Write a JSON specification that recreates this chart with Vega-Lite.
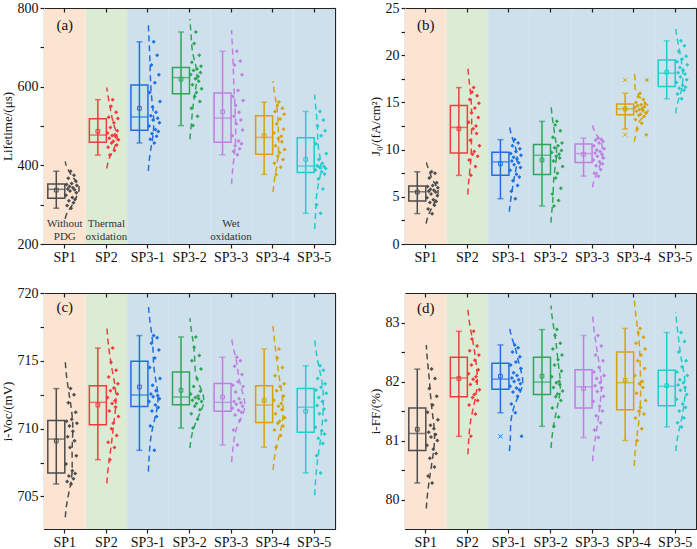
{
"$schema":"https://vega.github.io/schema/vega-lite/v6.json",
"padding":{"left":0,"top":0,"right":2,"bottom":0},
"config":{"font":"Liberation Serif","view":{"stroke":"#222","strokeWidth":1},
"axis":{"labelFont":"Liberation Serif","titleFont":"Liberation Serif","labelFontSize":14,"titleFontSize":13,"titleFontWeight":"normal","labelColor":"#111","titleColor":"#111","domainColor":"#222","tickColor":"#222","grid":false,"tickSize":4,"labelPadding":2,"domainWidth":1.2,"tickWidth":1.2,"titlePadding":3}},
"datasets":{
"zones":[{"g":"SP1","zone":"pre"},{"g":"SP2","zone":"thermal"},{"g":"SP3-1","zone":"wet"},{"g":"SP3-2","zone":"wet"},{"g":"SP3-3","zone":"wet"},{"g":"SP3-4","zone":"wet"},{"g":"SP3-5","zone":"wet"}],
"sa":[{"g":"SP1","lo":291,"q1":316,"med":339,"q3":352.5,"hi":385,"mean":337},{"g":"SP2","lo":426,"q1":459,"med":477,"q3":518.5,"hi":567,"mean":486.5},{"g":"SP3-1","lo":457,"q1":489,"med":523,"q3":604,"hi":714,"mean":545},{"g":"SP3-2","lo":501,"q1":582,"med":623,"q3":649,"hi":739,"mean":619},{"g":"SP3-3","lo":427,"q1":459,"med":520,"q3":584,"hi":690,"mean":536},{"g":"SP3-4","lo":377,"q1":428,"med":471,"q3":526,"hi":561,"mean":475},{"g":"SP3-5","lo":278,"q1":382,"med":398,"q3":470,"hi":537,"mean":415}],
"sb":[{"g":"SP1","lo":3.22,"q1":4.56,"med":5.54,"q3":6.14,"hi":7.65,"mean":5.5},{"g":"SP2","lo":7.27,"q1":9.65,"med":12.35,"q3":14.67,"hi":16.57,"mean":12.2},{"g":"SP3-1","lo":4.8,"q1":7.27,"med":8.7,"q3":9.72,"hi":11.06,"mean":8.5},{"g":"SP3-2","lo":4.03,"q1":7.37,"med":9.4,"q3":10.53,"hi":12.99,"mean":8.9},{"g":"SP3-3","lo":7.19,"q1":8.63,"med":9.58,"q3":10.6,"hi":11.23,"mean":9.5},{"g":"SP3-4","lo":12.18,"q1":13.69,"med":14.32,"q3":14.82,"hi":15.97,"mean":14.3},{"g":"SP3-5","lo":15.38,"q1":16.68,"med":18.08,"q3":19.48,"hi":21.52,"mean":18.2}],
"sc":[{"g":"SP1","lo":705.92,"q1":706.73,"med":709.23,"q3":710.6,"hi":712.95,"mean":709.09},{"g":"SP2","lo":707.71,"q1":710.29,"med":711.94,"q3":713.17,"hi":715.94,"mean":711.74},{"g":"SP3-1","lo":708.4,"q1":711.64,"med":712.48,"q3":714.96,"hi":716.86,"mean":713.07},{"g":"SP3-2","lo":710.04,"q1":711.77,"med":712.33,"q3":714.17,"hi":716.76,"mean":712.83},{"g":"SP3-3","lo":708.79,"q1":711.28,"med":711.94,"q3":713.32,"hi":715.26,"mean":712.33},{"g":"SP3-4","lo":708.62,"q1":710.46,"med":711.74,"q3":713.17,"hi":715.87,"mean":712.09},{"g":"SP3-5","lo":706.73,"q1":709.73,"med":711.57,"q3":712.95,"hi":714.64,"mean":711.28}],
"sd":[{"g":"SP1","lo":80.28,"q1":80.83,"med":81.12,"q3":81.55,"hi":82.21,"mean":81.19},{"g":"SP2","lo":81.07,"q1":81.74,"med":82.06,"q3":82.41,"hi":82.85,"mean":82.05},{"g":"SP3-1","lo":81.47,"q1":81.87,"med":82.04,"q3":82.31,"hi":82.62,"mean":82.09},{"g":"SP3-2","lo":81.24,"q1":81.78,"med":81.99,"q3":82.41,"hi":82.88,"mean":82.09},{"g":"SP3-3","lo":81.05,"q1":81.55,"med":81.91,"q3":82.2,"hi":82.78,"mean":81.88},{"g":"SP3-4","lo":81.0,"q1":81.52,"med":81.98,"q3":82.5,"hi":82.9,"mean":82.02},{"g":"SP3-5","lo":81.23,"q1":81.59,"med":81.92,"q3":82.19,"hi":82.83,"mean":81.93}],
"outl":[{"p":"b","g":"SP3-4","v":17.38},{"p":"b","g":"SP3-4","v":11.58},{"p":"d","g":"SP3-1","v":81.07}],
"pa":[
{"g":"SP1","v":324},{"g":"SP1","v":351},{"g":"SP1","v":298},{"g":"SP1","v":340},{"g":"SP1","v":367},{"g":"SP1","v":310},{"g":"SP1","v":346},{"g":"SP1","v":335},{"g":"SP1","v":385},{"g":"SP1","v":291},{"g":"SP1","v":354},{"g":"SP1","v":318},{"g":"SP1","v":343},{"g":"SP1","v":305},{"g":"SP1","v":375},{"g":"SP1","v":338},{"g":"SP1","v":314},{"g":"SP1","v":360},{"g":"SP1","v":330},{"g":"SP1","v":349},
{"g":"SP2","v":482},{"g":"SP2","v":446},{"g":"SP2","v":522},{"g":"SP2","v":469},{"g":"SP2","v":426},{"g":"SP2","v":496},{"g":"SP2","v":550},{"g":"SP2","v":457},{"g":"SP2","v":476},{"g":"SP2","v":567},{"g":"SP2","v":461},{"g":"SP2","v":508},{"g":"SP2","v":438},{"g":"SP2","v":478},{"g":"SP2","v":473},{"g":"SP2","v":535},{"g":"SP2","v":452},{"g":"SP2","v":488},{"g":"SP2","v":519},{"g":"SP2","v":465},
{"g":"SP3-1","v":500},{"g":"SP3-1","v":585},{"g":"SP3-1","v":466},{"g":"SP3-1","v":526},{"g":"SP3-1","v":655},{"g":"SP3-1","v":481},{"g":"SP3-1","v":548},{"g":"SP3-1","v":515},{"g":"SP3-1","v":714},{"g":"SP3-1","v":457},{"g":"SP3-1","v":610},{"g":"SP3-1","v":491},{"g":"SP3-1","v":535},{"g":"SP3-1","v":474},{"g":"SP3-1","v":680},{"g":"SP3-1","v":520},{"g":"SP3-1","v":486},{"g":"SP3-1","v":630},{"g":"SP3-1","v":508},{"g":"SP3-1","v":562},
{"g":"SP3-2","v":631},{"g":"SP3-2","v":545},{"g":"SP3-2","v":662},{"g":"SP3-2","v":605},{"g":"SP3-2","v":501},{"g":"SP3-2","v":641},{"g":"SP3-2","v":710},{"g":"SP3-2","v":575},{"g":"SP3-2","v":620},{"g":"SP3-2","v":739},{"g":"SP3-2","v":585},{"g":"SP3-2","v":645},{"g":"SP3-2","v":525},{"g":"SP3-2","v":626},{"g":"SP3-2","v":614},{"g":"SP3-2","v":680},{"g":"SP3-2","v":562},{"g":"SP3-2","v":636},{"g":"SP3-2","v":652},{"g":"SP3-2","v":595},
{"g":"SP3-3","v":475},{"g":"SP3-3","v":575},{"g":"SP3-3","v":435},{"g":"SP3-3","v":525},{"g":"SP3-3","v":655},{"g":"SP3-3","v":450},{"g":"SP3-3","v":552},{"g":"SP3-3","v":505},{"g":"SP3-3","v":690},{"g":"SP3-3","v":427},{"g":"SP3-3","v":590},{"g":"SP3-3","v":462},{"g":"SP3-3","v":535},{"g":"SP3-3","v":442},{"g":"SP3-3","v":665},{"g":"SP3-3","v":515},{"g":"SP3-3","v":455},{"g":"SP3-3","v":630},{"g":"SP3-3","v":490},{"g":"SP3-3","v":565},
{"g":"SP3-4","v":482},{"g":"SP3-4","v":405},{"g":"SP3-4","v":537},{"g":"SP3-4","v":450},{"g":"SP3-4","v":377},{"g":"SP3-4","v":505},{"g":"SP3-4","v":553},{"g":"SP3-4","v":424},{"g":"SP3-4","v":468},{"g":"SP3-4","v":561},{"g":"SP3-4","v":432},{"g":"SP3-4","v":518},{"g":"SP3-4","v":395},{"g":"SP3-4","v":474},{"g":"SP3-4","v":460},{"g":"SP3-4","v":545},{"g":"SP3-4","v":415},{"g":"SP3-4","v":492},{"g":"SP3-4","v":530},{"g":"SP3-4","v":440},
{"g":"SP3-5","v":388},{"g":"SP3-5","v":455},{"g":"SP3-5","v":300},{"g":"SP3-5","v":399},{"g":"SP3-5","v":500},{"g":"SP3-5","v":365},{"g":"SP3-5","v":415},{"g":"SP3-5","v":395},{"g":"SP3-5","v":537},{"g":"SP3-5","v":278},{"g":"SP3-5","v":475},{"g":"SP3-5","v":384},{"g":"SP3-5","v":405},{"g":"SP3-5","v":340},{"g":"SP3-5","v":515},{"g":"SP3-5","v":397},{"g":"SP3-5","v":378},{"g":"SP3-5","v":488},{"g":"SP3-5","v":392},{"g":"SP3-5","v":430}],
"pb":[
{"g":"SP1","v":4.9},{"g":"SP1","v":6.1},{"g":"SP1","v":3.7},{"g":"SP1","v":5.6},{"g":"SP1","v":7.0},{"g":"SP1","v":4.4},{"g":"SP1","v":5.8},{"g":"SP1","v":5.3},{"g":"SP1","v":7.65},{"g":"SP1","v":3.2},{"g":"SP1","v":6.2},{"g":"SP1","v":4.7},{"g":"SP1","v":5.7},{"g":"SP1","v":4.1},{"g":"SP1","v":7.5},{"g":"SP1","v":5.5},{"g":"SP1","v":4.5},{"g":"SP1","v":6.5},{"g":"SP1","v":5.1},{"g":"SP1","v":5.95},
{"g":"SP2","v":12.9},{"g":"SP2","v":8.9},{"g":"SP2","v":15.3},{"g":"SP2","v":11.0},{"g":"SP2","v":7.27},{"g":"SP2","v":13.9},{"g":"SP2","v":16.1},{"g":"SP2","v":9.5},{"g":"SP2","v":12.2},{"g":"SP2","v":16.57},{"g":"SP2","v":9.8},{"g":"SP2","v":14.4},{"g":"SP2","v":8.2},{"g":"SP2","v":12.5},{"g":"SP2","v":11.7},{"g":"SP2","v":15.7},{"g":"SP2","v":9.3},{"g":"SP2","v":13.4},{"g":"SP2","v":14.9},{"g":"SP2","v":10.4},
{"g":"SP3-1","v":7.8},{"g":"SP3-1","v":9.6},{"g":"SP3-1","v":5.6},{"g":"SP3-1","v":8.8},{"g":"SP3-1","v":10.4},{"g":"SP3-1","v":6.7},{"g":"SP3-1","v":9.2},{"g":"SP3-1","v":8.4},{"g":"SP3-1","v":11.06},{"g":"SP3-1","v":4.8},{"g":"SP3-1","v":9.8},{"g":"SP3-1","v":7.4},{"g":"SP3-1","v":9.0},{"g":"SP3-1","v":6.2},{"g":"SP3-1","v":10.7},{"g":"SP3-1","v":8.6},{"g":"SP3-1","v":7.1},{"g":"SP3-1","v":10.1},{"g":"SP3-1","v":8.1},{"g":"SP3-1","v":9.4},
{"g":"SP3-2","v":9.7},{"g":"SP3-2","v":5.3},{"g":"SP3-2","v":11.3},{"g":"SP3-2","v":8.8},{"g":"SP3-2","v":4.03},{"g":"SP3-2","v":10.2},{"g":"SP3-2","v":12.6},{"g":"SP3-2","v":7.0},{"g":"SP3-2","v":9.3},{"g":"SP3-2","v":12.99},{"g":"SP3-2","v":7.5},{"g":"SP3-2","v":10.4},{"g":"SP3-2","v":4.6},{"g":"SP3-2","v":9.5},{"g":"SP3-2","v":9.1},{"g":"SP3-2","v":12.0},{"g":"SP3-2","v":5.9},{"g":"SP3-2","v":9.9},{"g":"SP3-2","v":10.7},{"g":"SP3-2","v":8.2},
{"g":"SP3-3","v":8.9},{"g":"SP3-3","v":10.4},{"g":"SP3-3","v":7.5},{"g":"SP3-3","v":9.65},{"g":"SP3-3","v":11.0},{"g":"SP3-3","v":8.3},{"g":"SP3-3","v":9.95},{"g":"SP3-3","v":9.3},{"g":"SP3-3","v":11.23},{"g":"SP3-3","v":7.19},{"g":"SP3-3","v":10.7},{"g":"SP3-3","v":8.7},{"g":"SP3-3","v":9.8},{"g":"SP3-3","v":7.9},{"g":"SP3-3","v":11.1},{"g":"SP3-3","v":9.5},{"g":"SP3-3","v":8.5},{"g":"SP3-3","v":10.85},{"g":"SP3-3","v":9.1},{"g":"SP3-3","v":10.1},
{"g":"SP3-4","v":14.45},{"g":"SP3-4","v":13.2},{"g":"SP3-4","v":15.0},{"g":"SP3-4","v":14.05},{"g":"SP3-4","v":12.18},{"g":"SP3-4","v":14.65},{"g":"SP3-4","v":15.6},{"g":"SP3-4","v":13.65},{"g":"SP3-4","v":14.25},{"g":"SP3-4","v":15.97},{"g":"SP3-4","v":13.75},{"g":"SP3-4","v":14.75},{"g":"SP3-4","v":12.8},{"g":"SP3-4","v":14.35},{"g":"SP3-4","v":14.15},{"g":"SP3-4","v":15.3},{"g":"SP3-4","v":13.5},{"g":"SP3-4","v":14.55},{"g":"SP3-4","v":14.85},{"g":"SP3-4","v":13.9},{"g":"SP3-4","v":11.58},{"g":"SP3-4","v":17.38},
{"g":"SP3-5","v":17.1},{"g":"SP3-5","v":19.3},{"g":"SP3-5","v":15.9},{"g":"SP3-5","v":18.15},{"g":"SP3-5","v":20.4},{"g":"SP3-5","v":16.5},{"g":"SP3-5","v":18.7},{"g":"SP3-5","v":17.7},{"g":"SP3-5","v":21.52},{"g":"SP3-5","v":15.38},{"g":"SP3-5","v":19.6},{"g":"SP3-5","v":16.8},{"g":"SP3-5","v":18.4},{"g":"SP3-5","v":16.3},{"g":"SP3-5","v":21.0},{"g":"SP3-5","v":18.0},{"g":"SP3-5","v":16.6},{"g":"SP3-5","v":19.9},{"g":"SP3-5","v":17.4},{"g":"SP3-5","v":19.0}],
"pc":[
{"g":"SP1","v":707.4},{"g":"SP1","v":710.55},{"g":"SP1","v":706.1},{"g":"SP1","v":709.4},{"g":"SP1","v":711.9},{"g":"SP1","v":706.5},{"g":"SP1","v":710.2},{"g":"SP1","v":708.6},{"g":"SP1","v":712.95},{"g":"SP1","v":705.92},{"g":"SP1","v":710.7},{"g":"SP1","v":706.9},{"g":"SP1","v":709.8},{"g":"SP1","v":706.3},{"g":"SP1","v":712.5},{"g":"SP1","v":709.1},{"g":"SP1","v":706.7},{"g":"SP1","v":711.2},{"g":"SP1","v":708.0},{"g":"SP1","v":710.4},
{"g":"SP2","v":712.3},{"g":"SP2","v":709.0},{"g":"SP2","v":713.8},{"g":"SP2","v":711.3},{"g":"SP2","v":707.71},{"g":"SP2","v":712.8},{"g":"SP2","v":714.9},{"g":"SP2","v":710.0},{"g":"SP2","v":711.85},{"g":"SP2","v":715.94},{"g":"SP2","v":710.4},{"g":"SP2","v":713.0},{"g":"SP2","v":708.6},{"g":"SP2","v":712.05},{"g":"SP2","v":711.6},{"g":"SP2","v":714.3},{"g":"SP2","v":709.5},{"g":"SP2","v":712.55},{"g":"SP2","v":713.3},{"g":"SP2","v":710.9},
{"g":"SP3-1","v":712.0},{"g":"SP3-1","v":714.5},{"g":"SP3-1","v":710.2},{"g":"SP3-1","v":712.55},{"g":"SP3-1","v":716.3},{"g":"SP3-1","v":711.3},{"g":"SP3-1","v":713.2},{"g":"SP3-1","v":712.35},{"g":"SP3-1","v":716.86},{"g":"SP3-1","v":708.4},{"g":"SP3-1","v":715.2},{"g":"SP3-1","v":711.75},{"g":"SP3-1","v":712.8},{"g":"SP3-1","v":710.9},{"g":"SP3-1","v":716.7},{"g":"SP3-1","v":712.45},{"g":"SP3-1","v":711.55},{"g":"SP3-1","v":715.8},{"g":"SP3-1","v":712.2},{"g":"SP3-1","v":713.7},
{"g":"SP3-2","v":712.55},{"g":"SP3-2","v":711.1},{"g":"SP3-2","v":715.0},{"g":"SP3-2","v":712.1},{"g":"SP3-2","v":710.04},{"g":"SP3-2","v":713.1},{"g":"SP3-2","v":716.0},{"g":"SP3-2","v":711.65},{"g":"SP3-2","v":712.3},{"g":"SP3-2","v":716.76},{"g":"SP3-2","v":711.85},{"g":"SP3-2","v":713.7},{"g":"SP3-2","v":710.7},{"g":"SP3-2","v":712.4},{"g":"SP3-2","v":712.2},{"g":"SP3-2","v":715.4},{"g":"SP3-2","v":711.4},{"g":"SP3-2","v":712.75},{"g":"SP3-2","v":714.4},{"g":"SP3-2","v":712.0},
{"g":"SP3-3","v":711.5},{"g":"SP3-3","v":713.2},{"g":"SP3-3","v":709.9},{"g":"SP3-3","v":712.0},{"g":"SP3-3","v":714.6},{"g":"SP3-3","v":711.0},{"g":"SP3-3","v":712.7},{"g":"SP3-3","v":711.8},{"g":"SP3-3","v":715.26},{"g":"SP3-3","v":708.79},{"g":"SP3-3","v":713.45},{"g":"SP3-3","v":711.35},{"g":"SP3-3","v":712.2},{"g":"SP3-3","v":710.6},{"g":"SP3-3","v":715.0},{"g":"SP3-3","v":711.9},{"g":"SP3-3","v":711.2},{"g":"SP3-3","v":714.0},{"g":"SP3-3","v":711.65},{"g":"SP3-3","v":713.1},
{"g":"SP3-4","v":712.1},{"g":"SP3-4","v":709.9},{"g":"SP3-4","v":713.9},{"g":"SP3-4","v":711.1},{"g":"SP3-4","v":708.62},{"g":"SP3-4","v":712.8},{"g":"SP3-4","v":715.2},{"g":"SP3-4","v":710.4},{"g":"SP3-4","v":711.65},{"g":"SP3-4","v":715.87},{"g":"SP3-4","v":710.55},{"g":"SP3-4","v":713.1},{"g":"SP3-4","v":709.5},{"g":"SP3-4","v":711.85},{"g":"SP3-4","v":711.4},{"g":"SP3-4","v":714.5},{"g":"SP3-4","v":710.2},{"g":"SP3-4","v":712.4},{"g":"SP3-4","v":713.3},{"g":"SP3-4","v":710.8},
{"g":"SP3-5","v":710.1},{"g":"SP3-5","v":712.85},{"g":"SP3-5","v":708.0},{"g":"SP3-5","v":711.7},{"g":"SP3-5","v":713.7},{"g":"SP3-5","v":709.3},{"g":"SP3-5","v":712.3},{"g":"SP3-5","v":711.1},{"g":"SP3-5","v":714.64},{"g":"SP3-5","v":706.73},{"g":"SP3-5","v":713.05},{"g":"SP3-5","v":709.85},{"g":"SP3-5","v":712.0},{"g":"SP3-5","v":708.9},{"g":"SP3-5","v":714.3},{"g":"SP3-5","v":711.45},{"g":"SP3-5","v":709.6},{"g":"SP3-5","v":713.3},{"g":"SP3-5","v":710.6},{"g":"SP3-5","v":712.6}],
"pd":[
{"g":"SP1","v":80.92},{"g":"SP1","v":81.48},{"g":"SP1","v":80.4},{"g":"SP1","v":81.14},{"g":"SP1","v":81.88},{"g":"SP1","v":80.7},{"g":"SP1","v":81.26},{"g":"SP1","v":81.06},{"g":"SP1","v":82.21},{"g":"SP1","v":80.28},{"g":"SP1","v":81.6},{"g":"SP1","v":80.85},{"g":"SP1","v":81.2},{"g":"SP1","v":80.55},{"g":"SP1","v":82.05},{"g":"SP1","v":81.1},{"g":"SP1","v":80.78},{"g":"SP1","v":81.75},{"g":"SP1","v":81.0},{"g":"SP1","v":81.35},
{"g":"SP2","v":82.13},{"g":"SP2","v":81.6},{"g":"SP2","v":82.52},{"g":"SP2","v":81.95},{"g":"SP2","v":81.07},{"g":"SP2","v":82.28},{"g":"SP2","v":82.72},{"g":"SP2","v":81.73},{"g":"SP2","v":82.04},{"g":"SP2","v":82.85},{"g":"SP2","v":81.78},{"g":"SP2","v":82.36},{"g":"SP2","v":81.45},{"g":"SP2","v":82.08},{"g":"SP2","v":82.0},{"g":"SP2","v":82.6},{"g":"SP2","v":81.68},{"g":"SP2","v":82.2},{"g":"SP2","v":82.45},{"g":"SP2","v":81.86},
{"g":"SP3-1","v":81.92},{"g":"SP3-1","v":82.28},{"g":"SP3-1","v":81.62},{"g":"SP3-1","v":82.06},{"g":"SP3-1","v":82.5},{"g":"SP3-1","v":81.82},{"g":"SP3-1","v":82.15},{"g":"SP3-1","v":82.0},{"g":"SP3-1","v":82.62},{"g":"SP3-1","v":81.47},{"g":"SP3-1","v":82.33},{"g":"SP3-1","v":81.89},{"g":"SP3-1","v":82.1},{"g":"SP3-1","v":81.75},{"g":"SP3-1","v":82.57},{"g":"SP3-1","v":82.03},{"g":"SP3-1","v":81.86},{"g":"SP3-1","v":82.42},{"g":"SP3-1","v":81.96},{"g":"SP3-1","v":82.22},{"g":"SP3-1","v":81.07},
{"g":"SP3-2","v":82.08},{"g":"SP3-2","v":81.55},{"g":"SP3-2","v":82.55},{"g":"SP3-2","v":81.9},{"g":"SP3-2","v":81.24},{"g":"SP3-2","v":82.28},{"g":"SP3-2","v":82.78},{"g":"SP3-2","v":81.74},{"g":"SP3-2","v":81.98},{"g":"SP3-2","v":82.88},{"g":"SP3-2","v":81.79},{"g":"SP3-2","v":82.37},{"g":"SP3-2","v":81.4},{"g":"SP3-2","v":82.0},{"g":"SP3-2","v":81.95},{"g":"SP3-2","v":82.65},{"g":"SP3-2","v":81.68},{"g":"SP3-2","v":82.18},{"g":"SP3-2","v":82.45},{"g":"SP3-2","v":81.84},
{"g":"SP3-3","v":81.66},{"g":"SP3-3","v":82.16},{"g":"SP3-3","v":81.18},{"g":"SP3-3","v":81.93},{"g":"SP3-3","v":82.45},{"g":"SP3-3","v":81.42},{"g":"SP3-3","v":82.05},{"g":"SP3-3","v":81.83},{"g":"SP3-3","v":82.78},{"g":"SP3-3","v":81.05},{"g":"SP3-3","v":82.24},{"g":"SP3-3","v":81.58},{"g":"SP3-3","v":81.98},{"g":"SP3-3","v":81.3},{"g":"SP3-3","v":82.6},{"g":"SP3-3","v":81.89},{"g":"SP3-3","v":81.5},{"g":"SP3-3","v":82.35},{"g":"SP3-3","v":81.75},{"g":"SP3-3","v":82.1},
{"g":"SP3-4","v":82.1},{"g":"SP3-4","v":81.38},{"g":"SP3-4","v":82.65},{"g":"SP3-4","v":81.8},{"g":"SP3-4","v":81.0},{"g":"SP3-4","v":82.35},{"g":"SP3-4","v":82.82},{"g":"SP3-4","v":81.5},{"g":"SP3-4","v":81.96},{"g":"SP3-4","v":82.9},{"g":"SP3-4","v":81.56},{"g":"SP3-4","v":82.45},{"g":"SP3-4","v":81.2},{"g":"SP3-4","v":82.0},{"g":"SP3-4","v":81.9},{"g":"SP3-4","v":82.75},{"g":"SP3-4","v":81.45},{"g":"SP3-4","v":82.22},{"g":"SP3-4","v":82.55},{"g":"SP3-4","v":81.68},
{"g":"SP3-5","v":81.7},{"g":"SP3-5","v":82.16},{"g":"SP3-5","v":81.3},{"g":"SP3-5","v":81.94},{"g":"SP3-5","v":82.5},{"g":"SP3-5","v":81.5},{"g":"SP3-5","v":82.03},{"g":"SP3-5","v":81.85},{"g":"SP3-5","v":82.83},{"g":"SP3-5","v":81.23},{"g":"SP3-5","v":82.25},{"g":"SP3-5","v":81.62},{"g":"SP3-5","v":81.98},{"g":"SP3-5","v":81.38},{"g":"SP3-5","v":82.68},{"g":"SP3-5","v":81.9},{"g":"SP3-5","v":81.56},{"g":"SP3-5","v":82.35},{"g":"SP3-5","v":81.78},{"g":"SP3-5","v":82.1}]
},
"columns":2,
"spacing":{"column":31,"row":20},
"concat":[
{"width":291,"height":236,
"resolve":{"axis":{"x":"independent","y":"independent"},"scale":{"xOffset":"independent"}},
"layer":[
{"data":{"name":"zones"},"mark":{"type":"rect"},"encoding":{"x":{"field":"g","type":"nominal","scale":{"domain":["SP1","SP2","SP3-1","SP3-2","SP3-3","SP3-4","SP3-5"],"paddingInner":0,"paddingOuter":0},"axis":{"orient":"top","labels":false,"title":null,"tickSize":-4}},"fill":{"field":"zone","type":"nominal","scale":{"domain":["pre","thermal","wet"],"range":["#fbe4d2","#dcecd4","#cde0ec"]},"legend":null}}},
{"data":{"name":"sa"},"mark":{"type":"rule","xOffset":-8.5,"strokeWidth":1.5},"encoding":{"x":{"field":"g","type":"nominal","axis":null},"y":{"field":"lo","type":"quantitative","scale":{"domain":[200,800],"nice":false,"zero":false},"axis":{"orient":"right","labels":false,"title":null,"tickSize":-4,"values":[200,300,400,500,600,700,800]}},"y2":{"field":"hi"},"color":{"field":"g","type":"nominal","scale":{"domain":["SP1","SP2","SP3-1","SP3-2","SP3-3","SP3-4","SP3-5"],"range":["#4d4d4d","#f23b3b","#1e6fe0","#2ea655","#c07ee3","#d8a204","#22cccc"]},"legend":null}}},
{"data":{"name":"sa"},"transform":[{"fold":["lo","hi"],"as":["k","y"]}],"mark":{"type":"tick","orient":"horizontal","size":6,"thickness":1.5,"xOffset":-8.5},"encoding":{"x":{"field":"g","type":"nominal","axis":null},"y":{"field":"y","type":"quantitative","axis":null},"color":{"field":"g","type":"nominal","legend":null}}},
{"data":{"name":"sa"},"mark":{"type":"bar","filled":false,"width":17,"xOffset":-8.5,"strokeWidth":1.5},"encoding":{"x":{"field":"g","type":"nominal","axis":{"orient":"bottom","title":null,"labelAngle":0}},"y":{"field":"q1","type":"quantitative","axis":{"orient":"left","title":"Lifetime/(μs)","values":[200,300,400,500,600,700,800],"labelExpr":"datum.value % 200 === 0 ? datum.label : ''"}},"y2":{"field":"q3"},"color":{"field":"g","type":"nominal","legend":null}}},
{"data":{"name":"sa"},"mark":{"type":"tick","orient":"horizontal","size":17,"thickness":1.5,"xOffset":-8.5},"encoding":{"x":{"field":"g","type":"nominal","axis":null},"y":{"field":"med","type":"quantitative","axis":null},"color":{"field":"g","type":"nominal","legend":null}}},
{"data":{"name":"sa"},"mark":{"type":"point","shape":"square","filled":false,"size":14,"strokeWidth":1,"opacity":1,"xOffset":-8.5},"encoding":{"x":{"field":"g","type":"nominal","axis":null},"y":{"field":"mean","type":"quantitative","axis":null},"color":{"field":"g","type":"nominal","legend":null}}},
{"data":{"name":"pa"},"transform":[{"window":[{"op":"row_number","as":"k"}],"groupby":["g"]}],"mark":{"type":"point","shape":"diamond","filled":true,"size":16,"opacity":1},"encoding":{"x":{"field":"g","type":"nominal","axis":null},"xOffset":{"field":"k","type":"quantitative","scale":{"domain":[1,22],"range":[22,34]}},"y":{"field":"v","type":"quantitative","axis":null},"color":{"field":"g","type":"nominal","legend":null}}},
{"data":{"name":"pa"},"transform":[{"density":"v","groupby":["g"],"extent":[200,800],"steps":300},{"filter":"datum.density > 0.0004"}],"mark":{"type":"line","strokeWidth":1.5,"strokeDash":[6,4]},"encoding":{"x":{"field":"g","type":"nominal","axis":null},"xOffset":{"field":"density","type":"quantitative","scale":{"domain":[0,0.013],"range":[20.8,35],"clamp":true}},"y":{"field":"value","type":"quantitative","axis":null},"order":{"field":"value","type":"quantitative"},"color":{"field":"g","type":"nominal","legend":null}}},
{"data":{"values":[{"g":"SP1","t":"(a)","v":757}]},"mark":{"type":"text","fontSize":15,"color":"#111"},"encoding":{"x":{"field":"g","type":"nominal","axis":null},"y":{"field":"v","type":"quantitative","axis":null},"text":{"field":"t"}}},
{"data":{"values":[{"g":"SP1","t":"Without\nPDG","v":250},{"g":"SP2","t":"Thermal\noxidation","v":250},{"g":"SP3-3","t":"Wet\noxidation","v":250}]},"mark":{"type":"text","fontSize":11,"color":"#333","lineBreak":"\n","lineHeight":12.5,"baseline":"middle"},"encoding":{"x":{"field":"g","type":"nominal","axis":null},"y":{"field":"v","type":"quantitative","axis":null},"text":{"field":"t"}}}
]},
{"width":291,"height":236,
"resolve":{"axis":{"x":"independent","y":"independent"},"scale":{"xOffset":"independent"}},
"layer":[
{"data":{"name":"zones"},"mark":{"type":"rect"},"encoding":{"x":{"field":"g","type":"nominal","scale":{"domain":["SP1","SP2","SP3-1","SP3-2","SP3-3","SP3-4","SP3-5"],"paddingInner":0,"paddingOuter":0},"axis":{"orient":"top","labels":false,"title":null,"tickSize":-4}},"fill":{"field":"zone","type":"nominal","scale":{"domain":["pre","thermal","wet"],"range":["#fbe4d2","#dcecd4","#cde0ec"]},"legend":null}}},
{"data":{"name":"sb"},"mark":{"type":"rule","xOffset":-8.5,"strokeWidth":1.5},"encoding":{"x":{"field":"g","type":"nominal","axis":null},"y":{"field":"lo","type":"quantitative","scale":{"domain":[0,25],"nice":false,"zero":false},"axis":{"orient":"right","labels":false,"title":null,"tickSize":-4,"values":[0,2.5,5,7.5,10,12.5,15,17.5,20,22.5,25]}},"y2":{"field":"hi"},"color":{"field":"g","type":"nominal","scale":{"domain":["SP1","SP2","SP3-1","SP3-2","SP3-3","SP3-4","SP3-5"],"range":["#4d4d4d","#f23b3b","#1e6fe0","#2ea655","#c07ee3","#d8a204","#22cccc"]},"legend":null}}},
{"data":{"name":"sb"},"transform":[{"fold":["lo","hi"],"as":["k","y"]}],"mark":{"type":"tick","orient":"horizontal","size":6,"thickness":1.5,"xOffset":-8.5},"encoding":{"x":{"field":"g","type":"nominal","axis":null},"y":{"field":"y","type":"quantitative","axis":null},"color":{"field":"g","type":"nominal","legend":null}}},
{"data":{"name":"sb"},"mark":{"type":"bar","filled":false,"width":17,"xOffset":-8.5,"strokeWidth":1.5},"encoding":{"x":{"field":"g","type":"nominal","axis":{"orient":"bottom","title":null,"labelAngle":0}},"y":{"field":"q1","type":"quantitative","axis":{"orient":"left","title":"J₀/(fA/cm²)","values":[0,2.5,5,7.5,10,12.5,15,17.5,20,22.5,25],"labelExpr":"datum.value % 5 === 0 ? datum.label : ''"}},"y2":{"field":"q3"},"color":{"field":"g","type":"nominal","legend":null}}},
{"data":{"name":"sb"},"mark":{"type":"tick","orient":"horizontal","size":17,"thickness":1.5,"xOffset":-8.5},"encoding":{"x":{"field":"g","type":"nominal","axis":null},"y":{"field":"med","type":"quantitative","axis":null},"color":{"field":"g","type":"nominal","legend":null}}},
{"data":{"name":"sb"},"mark":{"type":"point","shape":"square","filled":false,"size":14,"strokeWidth":1,"opacity":1,"xOffset":-8.5},"encoding":{"x":{"field":"g","type":"nominal","axis":null},"y":{"field":"mean","type":"quantitative","axis":null},"color":{"field":"g","type":"nominal","legend":null}}},
{"data":{"name":"outl"},"transform":[{"filter":"datum.p == 'b'"}],"mark":{"type":"point","shape":"M-1,-1L1,1M-1,1L1,-1","filled":false,"size":16,"strokeWidth":1,"opacity":1,"xOffset":-8.5},"encoding":{"x":{"field":"g","type":"nominal","axis":null},"y":{"field":"v","type":"quantitative","axis":null},"color":{"field":"g","type":"nominal","legend":null}}},
{"data":{"name":"pb"},"transform":[{"window":[{"op":"row_number","as":"k"}],"groupby":["g"]}],"mark":{"type":"point","shape":"diamond","filled":true,"size":16,"opacity":1},"encoding":{"x":{"field":"g","type":"nominal","axis":null},"xOffset":{"field":"k","type":"quantitative","scale":{"domain":[1,22],"range":[22,34]}},"y":{"field":"v","type":"quantitative","axis":null},"color":{"field":"g","type":"nominal","legend":null}}},
{"data":{"name":"pb"},"transform":[{"density":"v","groupby":["g"],"extent":[0,25],"steps":300},{"filter":"datum.density > 0.01"}],"mark":{"type":"line","strokeWidth":1.5,"strokeDash":[6,4]},"encoding":{"x":{"field":"g","type":"nominal","axis":null},"xOffset":{"field":"density","type":"quantitative","scale":{"domain":[0,0.35],"range":[20.8,35],"clamp":true}},"y":{"field":"value","type":"quantitative","axis":null},"order":{"field":"value","type":"quantitative"},"color":{"field":"g","type":"nominal","legend":null}}},
{"data":{"values":[{"g":"SP1","t":"(b)","v":23.2}]},"mark":{"type":"text","fontSize":15,"color":"#111"},"encoding":{"x":{"field":"g","type":"nominal","axis":null},"y":{"field":"v","type":"quantitative","axis":null},"text":{"field":"t"}}}
]},
{"width":291,"height":236,
"resolve":{"axis":{"x":"independent","y":"independent"},"scale":{"xOffset":"independent"}},
"layer":[
{"data":{"name":"zones"},"mark":{"type":"rect"},"encoding":{"x":{"field":"g","type":"nominal","scale":{"domain":["SP1","SP2","SP3-1","SP3-2","SP3-3","SP3-4","SP3-5"],"paddingInner":0,"paddingOuter":0},"axis":{"orient":"top","labels":false,"title":null,"tickSize":-4}},"fill":{"field":"zone","type":"nominal","scale":{"domain":["pre","thermal","wet"],"range":["#fbe4d2","#dcecd4","#cde0ec"]},"legend":null}}},
{"data":{"name":"sc"},"mark":{"type":"rule","xOffset":-8.5,"strokeWidth":1.5},"encoding":{"x":{"field":"g","type":"nominal","axis":null},"y":{"field":"lo","type":"quantitative","scale":{"domain":[702.6,720],"nice":false,"zero":false},"axis":{"orient":"right","labels":false,"title":null,"tickSize":-4,"values":[705,707.5,710,712.5,715,717.5,720]}},"y2":{"field":"hi"},"color":{"field":"g","type":"nominal","scale":{"domain":["SP1","SP2","SP3-1","SP3-2","SP3-3","SP3-4","SP3-5"],"range":["#4d4d4d","#f23b3b","#1e6fe0","#2ea655","#c07ee3","#d8a204","#22cccc"]},"legend":null}}},
{"data":{"name":"sc"},"transform":[{"fold":["lo","hi"],"as":["k","y"]}],"mark":{"type":"tick","orient":"horizontal","size":6,"thickness":1.5,"xOffset":-8.5},"encoding":{"x":{"field":"g","type":"nominal","axis":null},"y":{"field":"y","type":"quantitative","axis":null},"color":{"field":"g","type":"nominal","legend":null}}},
{"data":{"name":"sc"},"mark":{"type":"bar","filled":false,"width":17,"xOffset":-8.5,"strokeWidth":1.5},"encoding":{"x":{"field":"g","type":"nominal","axis":{"orient":"bottom","title":null,"labelAngle":0}},"y":{"field":"q1","type":"quantitative","axis":{"orient":"left","title":"i-Voc/(mV)","values":[705,707.5,710,712.5,715,717.5,720],"labelExpr":"datum.value % 5 === 0 ? datum.label : ''"}},"y2":{"field":"q3"},"color":{"field":"g","type":"nominal","legend":null}}},
{"data":{"name":"sc"},"mark":{"type":"tick","orient":"horizontal","size":17,"thickness":1.5,"xOffset":-8.5},"encoding":{"x":{"field":"g","type":"nominal","axis":null},"y":{"field":"med","type":"quantitative","axis":null},"color":{"field":"g","type":"nominal","legend":null}}},
{"data":{"name":"sc"},"mark":{"type":"point","shape":"square","filled":false,"size":14,"strokeWidth":1,"opacity":1,"xOffset":-8.5},"encoding":{"x":{"field":"g","type":"nominal","axis":null},"y":{"field":"mean","type":"quantitative","axis":null},"color":{"field":"g","type":"nominal","legend":null}}},
{"data":{"name":"pc"},"transform":[{"window":[{"op":"row_number","as":"k"}],"groupby":["g"]}],"mark":{"type":"point","shape":"diamond","filled":true,"size":16,"opacity":1},"encoding":{"x":{"field":"g","type":"nominal","axis":null},"xOffset":{"field":"k","type":"quantitative","scale":{"domain":[1,22],"range":[22,34]}},"y":{"field":"v","type":"quantitative","axis":null},"color":{"field":"g","type":"nominal","legend":null}}},
{"data":{"name":"pc"},"transform":[{"density":"v","groupby":["g"],"extent":[702.6,720],"steps":300},{"filter":"datum.density > 0.008"}],"mark":{"type":"line","strokeWidth":1.5,"strokeDash":[6,4]},"encoding":{"x":{"field":"g","type":"nominal","axis":null},"xOffset":{"field":"density","type":"quantitative","scale":{"domain":[0,0.24],"range":[20.8,35],"clamp":true}},"y":{"field":"value","type":"quantitative","axis":null},"order":{"field":"value","type":"quantitative"},"color":{"field":"g","type":"nominal","legend":null}}},
{"data":{"values":[{"g":"SP1","t":"(c)","v":719.0}]},"mark":{"type":"text","fontSize":15,"color":"#111"},"encoding":{"x":{"field":"g","type":"nominal","axis":null},"y":{"field":"v","type":"quantitative","axis":null},"text":{"field":"t"}}}
]},
{"width":291,"height":236,
"resolve":{"axis":{"x":"independent","y":"independent"},"scale":{"xOffset":"independent"}},
"layer":[
{"data":{"name":"zones"},"mark":{"type":"rect"},"encoding":{"x":{"field":"g","type":"nominal","scale":{"domain":["SP1","SP2","SP3-1","SP3-2","SP3-3","SP3-4","SP3-5"],"paddingInner":0,"paddingOuter":0},"axis":{"orient":"top","labels":false,"title":null,"tickSize":-4}},"fill":{"field":"zone","type":"nominal","scale":{"domain":["pre","thermal","wet"],"range":["#fbe4d2","#dcecd4","#cde0ec"]},"legend":null}}},
{"data":{"name":"sd"},"mark":{"type":"rule","xOffset":-8.5,"strokeWidth":1.5},"encoding":{"x":{"field":"g","type":"nominal","axis":null},"y":{"field":"lo","type":"quantitative","scale":{"domain":[79.5,83.5],"nice":false,"zero":false},"axis":{"orient":"right","labels":false,"title":null,"tickSize":-4,"values":[80,80.5,81,81.5,82,82.5,83]}},"y2":{"field":"hi"},"color":{"field":"g","type":"nominal","scale":{"domain":["SP1","SP2","SP3-1","SP3-2","SP3-3","SP3-4","SP3-5"],"range":["#4d4d4d","#f23b3b","#1e6fe0","#2ea655","#c07ee3","#d8a204","#22cccc"]},"legend":null}}},
{"data":{"name":"sd"},"transform":[{"fold":["lo","hi"],"as":["k","y"]}],"mark":{"type":"tick","orient":"horizontal","size":6,"thickness":1.5,"xOffset":-8.5},"encoding":{"x":{"field":"g","type":"nominal","axis":null},"y":{"field":"y","type":"quantitative","axis":null},"color":{"field":"g","type":"nominal","legend":null}}},
{"data":{"name":"sd"},"mark":{"type":"bar","filled":false,"width":17,"xOffset":-8.5,"strokeWidth":1.5},"encoding":{"x":{"field":"g","type":"nominal","axis":{"orient":"bottom","title":null,"labelAngle":0}},"y":{"field":"q1","type":"quantitative","axis":{"orient":"left","title":"i-FF/(%)","values":[80,80.5,81,81.5,82,82.5,83],"labelExpr":"datum.value % 1 === 0 ? format(datum.value, 'd') : ''"}},"y2":{"field":"q3"},"color":{"field":"g","type":"nominal","legend":null}}},
{"data":{"name":"sd"},"mark":{"type":"tick","orient":"horizontal","size":17,"thickness":1.5,"xOffset":-8.5},"encoding":{"x":{"field":"g","type":"nominal","axis":null},"y":{"field":"med","type":"quantitative","axis":null},"color":{"field":"g","type":"nominal","legend":null}}},
{"data":{"name":"sd"},"mark":{"type":"point","shape":"square","filled":false,"size":14,"strokeWidth":1,"opacity":1,"xOffset":-8.5},"encoding":{"x":{"field":"g","type":"nominal","axis":null},"y":{"field":"mean","type":"quantitative","axis":null},"color":{"field":"g","type":"nominal","legend":null}}},
{"data":{"name":"outl"},"transform":[{"filter":"datum.p == 'd'"}],"mark":{"type":"point","shape":"M-1,-1L1,1M-1,1L1,-1","filled":false,"size":16,"strokeWidth":1,"opacity":1,"xOffset":-8.5},"encoding":{"x":{"field":"g","type":"nominal","axis":null},"y":{"field":"v","type":"quantitative","axis":null},"color":{"field":"g","type":"nominal","legend":null}}},
{"data":{"name":"pd"},"transform":[{"window":[{"op":"row_number","as":"k"}],"groupby":["g"]}],"mark":{"type":"point","shape":"diamond","filled":true,"size":16,"opacity":1},"encoding":{"x":{"field":"g","type":"nominal","axis":null},"xOffset":{"field":"k","type":"quantitative","scale":{"domain":[1,22],"range":[22,34]}},"y":{"field":"v","type":"quantitative","axis":null},"color":{"field":"g","type":"nominal","legend":null}}},
{"data":{"name":"pd"},"transform":[{"density":"v","groupby":["g"],"extent":[79.5,83.5],"steps":300},{"filter":"datum.density > 0.04"}],"mark":{"type":"line","strokeWidth":1.5,"strokeDash":[6,4]},"encoding":{"x":{"field":"g","type":"nominal","axis":null},"xOffset":{"field":"density","type":"quantitative","scale":{"domain":[0,1.1],"range":[20.8,35],"clamp":true}},"y":{"field":"value","type":"quantitative","axis":null},"order":{"field":"value","type":"quantitative"},"color":{"field":"g","type":"nominal","legend":null}}},
{"data":{"values":[{"g":"SP1","t":"(d)","v":83.25}]},"mark":{"type":"text","fontSize":15,"color":"#111"},"encoding":{"x":{"field":"g","type":"nominal","axis":null},"y":{"field":"v","type":"quantitative","axis":null},"text":{"field":"t"}}}
]}
]
}
